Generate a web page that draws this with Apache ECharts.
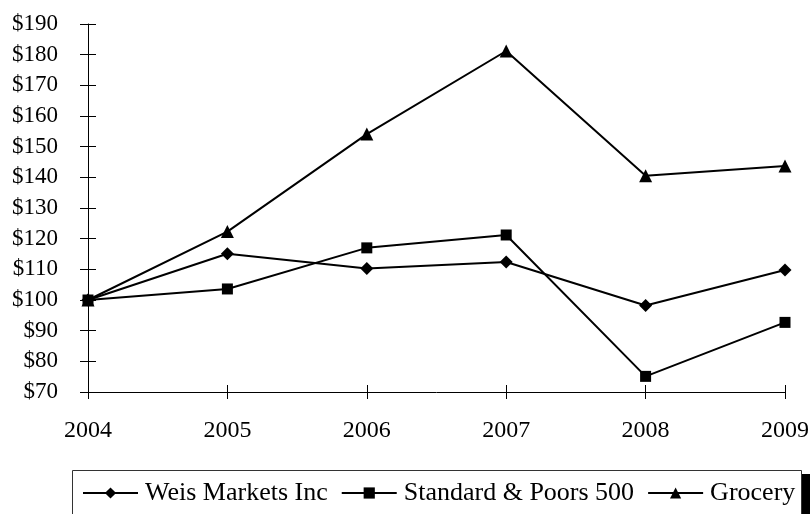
<!DOCTYPE html>
<html>
<head>
<meta charset="utf-8">
<script src="https://cdn.jsdelivr.net/npm/echarts@6/dist/echarts.min.js"></script>
<style>html,body{margin:0;padding:0;background:#fff;}#c{width:812px;height:514px;}</style>
</head>
<body>
<div id="c"></div>
<script>
const years = ['2004', '2005', '2006', '2007', '2008', '2009'];
const weis = [100, 115.1, 110.3, 112.4, 98.2, 109.8];
const sp500 = [100, 103.6, 117.0, 121.2, 75.1, 92.7];
const grocery = [100, 122.3, 154.1, 181.2, 140.5, 143.7];
const seriesNames = ['Weis Markets Inc', 'Standard & Poors 500', 'Grocery'];

const FONT = 'Liberation Serif';
const chart = echarts.init(document.getElementById('c'), null, {renderer: 'canvas'});
const lineStyle = {color: '#000', width: 2};
const itemStyle = {color: '#000'};
chart.setOption({
  animation: false,
  backgroundColor: '#fff',
  grid: {left: 88, right: 23, top: 24, bottom: 122, containLabel: false},
  graphic: [
    {type: 'rect', z: 1, silent: true, shape: {x: 81, y: 474, width: 729, height: 60}, style: {fill: '#000'}},
    {type: 'rect', z: 2, silent: true, shape: {x: 72.5, y: 470.5, width: 729, height: 60}, style: {fill: '#fff', stroke: '#333', lineWidth: 1}}
  ],
  legend: {
    left: 82, top: 480, z: 10,
    padding: 0,
    itemGap: 13,
    itemWidth: 55, itemHeight: 14,
    textStyle: {fontFamily: FONT, fontSize: 26, color: '#000', padding: [0, 0, 0, 2]},
    data: seriesNames
  },
  xAxis: [{
    type: 'category', data: years, boundaryGap: false,
    axisLine: {lineStyle: {color: '#000', width: 1}},
    axisTick: {show: true, inside: false, length: 7, alignWithLabel: true, lineStyle: {color: '#000'}},
    axisLabel: {fontFamily: FONT, fontSize: 24, color: '#000', margin: 27},
    splitLine: {show: false}
  }, {
    type: 'category', data: years, boundaryGap: false, position: 'bottom',
    axisLine: {show: false},
    axisTick: {show: true, inside: true, length: 7, lineStyle: {color: '#000'}},
    axisLabel: {show: false},
    splitLine: {show: false}
  }],
  yAxis: [{
    type: 'value', min: 70, max: 190, interval: 10,
    axisLine: {show: true, lineStyle: {color: '#000', width: 1}},
    axisTick: {show: true, inside: false, length: 8, lineStyle: {color: '#000'}},
    axisLabel: {fontFamily: FONT, fontSize: 23, color: '#000', margin: 30, formatter: v => '$' + v},
    splitLine: {show: false}
  }, {
    type: 'value', min: 70, max: 190, interval: 10, position: 'left',
    axisLine: {show: false},
    axisTick: {show: true, inside: true, length: 8, lineStyle: {color: '#000'}},
    axisLabel: {show: false},
    splitLine: {show: false}
  }],
  series: [
    {name: seriesNames[0], type: 'line', data: weis, symbol: 'diamond', symbolSize: 13, lineStyle, itemStyle, z: 2},
    {name: seriesNames[1], type: 'line', data: sp500, symbol: 'rect', symbolSize: 11, lineStyle, itemStyle, z: 4},
    {name: seriesNames[2], type: 'line', data: grocery, symbol: 'triangle', symbolSize: 13, lineStyle, itemStyle, z: 3}
  ]
});
</script>
</body>
</html>
